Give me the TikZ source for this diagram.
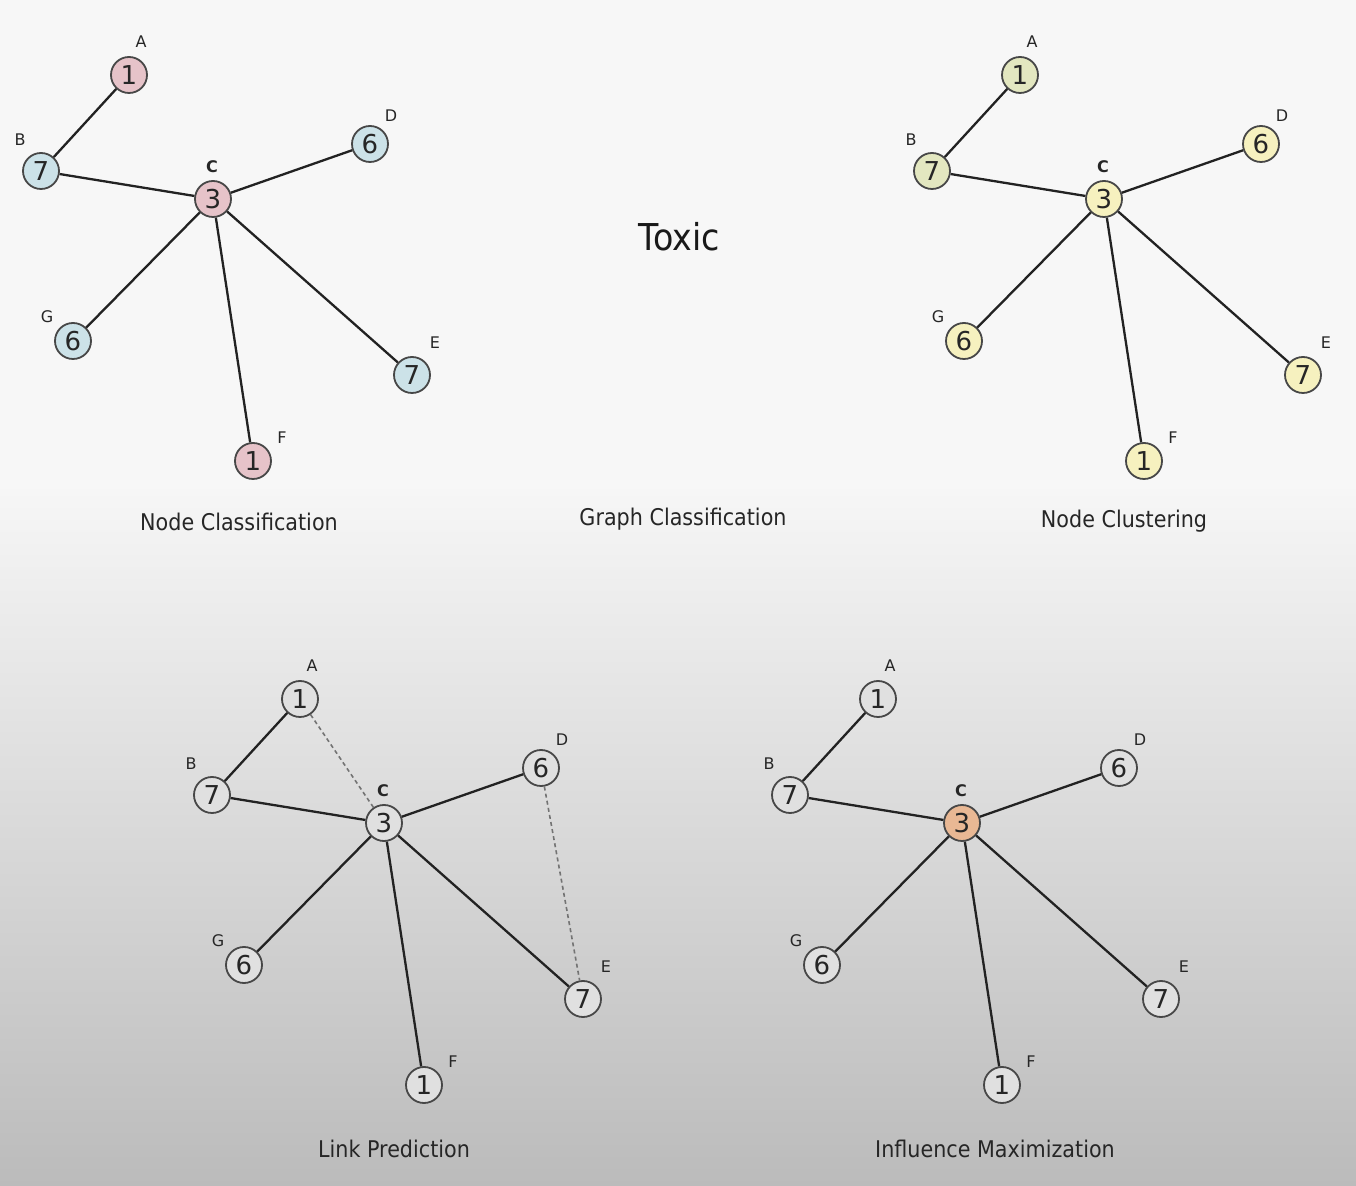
\documentclass[tikz,border=0pt]{standalone}
\usepackage{fontspec}
\setmainfont{DejaVu Sans}
\newfontfamily\narrow{DejaVu Sans}[FakeStretch=0.9]
\definecolor{pinkfill}{HTML}{E6C3C9}
\definecolor{bluefill}{HTML}{CCE2E8}
\definecolor{greenfill}{HTML}{E3E7C0}
\definecolor{yellowfill}{HTML}{F6F1BF}
\definecolor{greyfill}{HTML}{E0E0E0}
\definecolor{orangefill}{HTML}{E9B894}
\definecolor{bgtop}{HTML}{F7F7F7}
\definecolor{bgmid}{HTML}{F6F6F6}
\definecolor{bgbot}{HTML}{BBBBBB}
\definecolor{edgecol}{HTML}{222222}
\tikzset{
  gn/.style={circle, draw=black!72, line width=0.9pt, minimum size=18pt, inner sep=0pt,
             text=black!85, font=\fontsize{13}{13}\selectfont},
  lab/.style={inner sep=0pt, text=black!85, font=\fontsize{8}{8}\selectfont},
  edge/.style={draw=edgecol, line width=1.15pt},
  guess/.style={draw=black!55, line width=0.8pt, dash pattern=on 2pt off 1.6pt},
  captext/.style={inner sep=0pt, text=black!85, font=\narrow\fontsize{11.5}{11.5}\selectfont},
}
\newcommand\graphsix[9]{%
  \begin{scope}[shift={(#2)}]
    \node[gn,fill=#3] (#1A) at (129,75) {1};
    \node[gn,fill=#4] (#1B) at (41,171) {7};
    \node[gn,fill=#5] (#1C) at (213,199) {3};
    \node[gn,fill=#6] (#1D) at (370,144) {6};
    \node[gn,fill=#7] (#1E) at (412,375) {7};
    \node[gn,fill=#8] (#1F) at (253,461) {1};
    \node[gn,fill=#9] (#1G) at (73,341) {6};
    \node[lab] (#1lA) at (141,42) {A};
    \node[lab] (#1lB) at (20,140) {B};
    \node[lab,font=\bfseries\fontsize{8}{8}\selectfont] (#1lC) at (212,167) {C};
    \node[lab] (#1lD) at (391,116) {D};
    \node[lab] (#1lE) at (435,343) {E};
    \node[lab] (#1lF) at (282,438) {F};
    \node[lab] (#1lG) at (47,317) {G};
    \draw[edge] (#1A) -- (#1B);
    \draw[edge] (#1B) -- (#1C);
    \draw[edge] (#1C) -- (#1D);
    \draw[edge] (#1C) -- (#1E);
    \draw[edge] (#1C) -- (#1F);
    \draw[edge] (#1C) -- (#1G);
  \end{scope}}
\begin{document}
\begin{tikzpicture}[x=0.5pt,y=-0.5pt]
  \useasboundingbox (0,0) rectangle (1356,1186);
  \fill[bgtop] (0,0) rectangle (1356,492);
  \shade[top color=bgmid, bottom color=bgbot] (0,490) rectangle (1356,1186);

  \graphsix{nc}{0,0}{pinkfill}{bluefill}{pinkfill}{bluefill}{bluefill}{pinkfill}{bluefill}
  \graphsix{cl}{891,0}{greenfill}{greenfill}{yellowfill}{yellowfill}{yellowfill}{yellowfill}{yellowfill}
  \graphsix{lp}{171,624}{greyfill}{greyfill}{greyfill}{greyfill}{greyfill}{greyfill}{greyfill}
  \graphsix{im}{749,624}{greyfill}{greyfill}{orangefill}{greyfill}{greyfill}{greyfill}{greyfill}

  \draw[guess] (lpA) -- (lpC);
  \draw[guess] (lpD) -- (lpE);

  \node[inner sep=0pt, text=black!90, font=\narrow\fontsize{18.5}{18.5}\selectfont] (toxic) at (679,237) {Toxic};
  \node[captext] (cap1) at (239,522) {Node Classification};
  \node[captext] (cap2) at (683,519) {Graph Classification};
  \node[captext] (cap3) at (1124,521) {Node Clustering};
  \node[captext] (cap4) at (394,1149) {Link Prediction};
  \node[captext] (cap5) at (995,1149) {Influence Maximization};
\end{tikzpicture}
\end{document}
